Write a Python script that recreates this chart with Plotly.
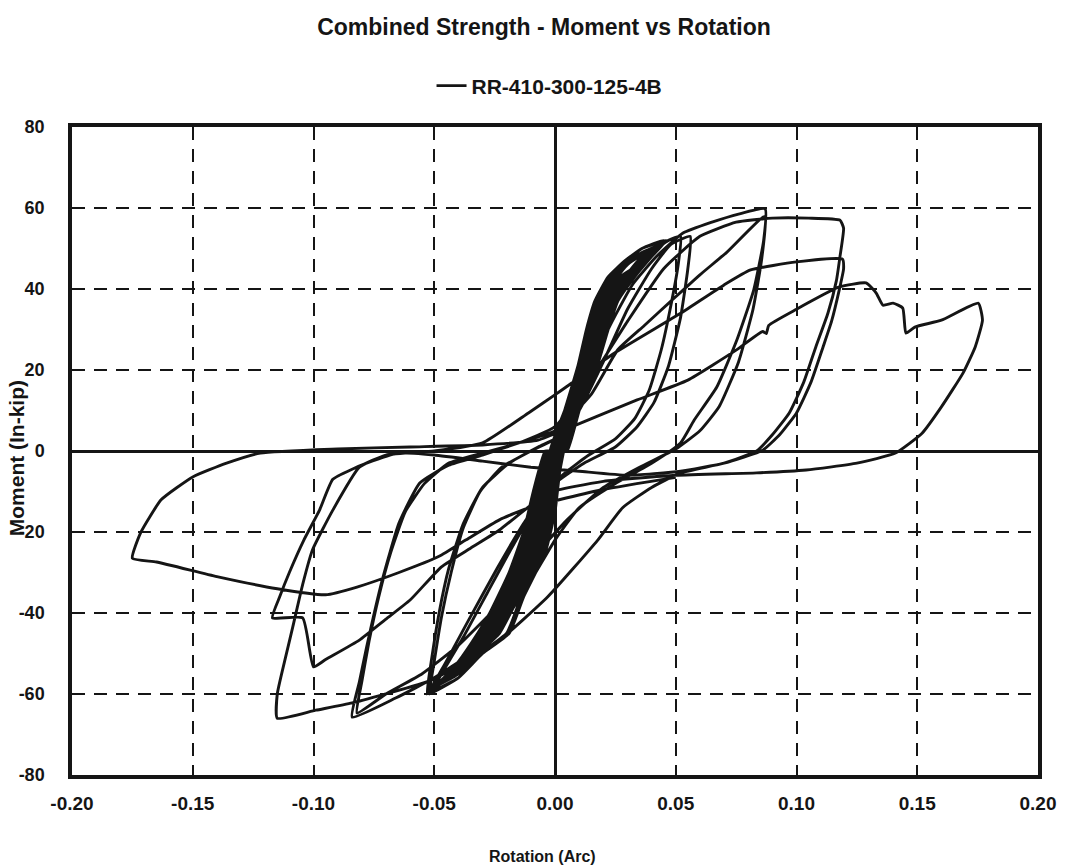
import plotly.graph_objects as go

# ---------------- data (rotation in rad, moment in in-kip) ----------------
# small cycles forming the dense central band
cA_rot = [0.003, 0.010, 0.017, 0.022, 0.026, 0.033, 0.040, 0.046, 0.036, 0.029, 0.022, 0.0165, 0.013, 0.0095, 0.004, -0.001, -0.004, -0.009, -0.013, -0.019, -0.027, -0.032, -0.040, -0.046, -0.052, -0.040, -0.030, -0.019, -0.013, -0.004, 0.000, 0.002]
cA_mom = [0, 10, 20, 30, 37, 43, 48, 52, 50, 47, 43, 37, 30, 21, 10, 0, 0, -10, -20, -30, -40, -45, -52, -56, -60, -56, -50, -45, -36, -25, -15, -5]

cB_rot = [0.001, 0.008, 0.015, 0.020, 0.024, 0.031, 0.038, 0.044, 0.036, 0.031, 0.024, 0.0185, 0.015, 0.0115, 0.006, 0.001, -0.002, -0.007, -0.011, -0.017, -0.025, -0.030, -0.038, -0.049, -0.040, -0.032, -0.023, -0.015, -0.006, -0.002, 0.000]
cB_mom = [0, 10, 20, 30, 37, 43, 48, 51, 49, 47, 43, 37, 30, 21, 10, 0, 0, -10, -20, -30, -40, -45, -52, -58, -55, -50, -45, -36, -25, -15, -5]

cC_rot = [0.000, 0.006, 0.013, 0.018, 0.022, 0.029, 0.036, 0.042, 0.035, 0.030, 0.026, 0.0205, 0.017, 0.0135, 0.008, 0.003, 0.000, -0.005, -0.009, -0.015, -0.023, -0.028, -0.036, -0.046, -0.039, -0.033, -0.025, -0.017, -0.008, -0.004, -0.001]
cC_mom = [0, 10, 20, 30, 37, 43, 48, 50, 48, 46, 43, 37, 30, 21, 10, 0, 0, -10, -20, -30, -40, -45, -52, -56, -54, -50, -45, -36, -25, -15, -5]

cD_rot = [0.002, 0.009, 0.016, 0.021, 0.025, 0.032, 0.039, 0.045, 0.036, 0.030, 0.023, 0.0175, 0.014, 0.0105, 0.005, 0.000, -0.003, -0.008, -0.012, -0.018, -0.026, -0.031, -0.039, -0.045, -0.050, -0.040, -0.031, -0.020, -0.014, -0.005, -0.001, 0.001]
cD_mom = [0, 10, 20, 30, 37, 43, 48, 52, 50, 47, 43, 37, 30, 21, 10, 0, 0, -10, -20, -30, -40, -45, -52, -56, -59, -56, -50, -45, -36, -25, -15, -5]

cE_rot = [0.000, 0.007, 0.014, 0.019, 0.023, 0.030, 0.037, 0.043, 0.036, 0.031, 0.025, 0.0195, 0.016, 0.0125, 0.007, 0.002, -0.001, -0.006, -0.010, -0.016, -0.024, -0.029, -0.037, -0.048, -0.040, -0.033, -0.024, -0.016, -0.007, -0.003, -0.001]
cE_mom = [0, 10, 20, 30, 37, 43, 48, 50.5, 48.5, 47, 43, 37, 30, 21, 10, 0, 0, -10, -20, -30, -40, -45, -52, -57, -55, -50, -45, -36, -25, -15, -5]

cF_rot = [-0.001, 0.005, 0.012, 0.017, 0.021, 0.028, 0.038, 0.032, 0.027, 0.0215, 0.018, 0.0145, 0.009, 0.004, 0.001, -0.004, -0.008, -0.014, -0.022, -0.027, -0.040, -0.034, -0.026, -0.018, -0.009, -0.005, -0.002]
cF_mom = [0, 10, 20, 30, 37, 43, 47, 45, 43, 37, 30, 21, 10, 0, 0, -10, -20, -30, -40, -45, -52, -50, -45, -36, -25, -15, -5]

cG_rot = [-0.002, 0.004, 0.011, 0.016, 0.020, 0.032, 0.027, 0.0225, 0.019, 0.0155, 0.010, 0.005, 0.002, -0.003, -0.007, -0.013, -0.021, -0.032, -0.026, -0.019, -0.010, -0.006, -0.003]
cG_mom = [0, 10, 20, 30, 37, 42, 40, 37, 30, 21, 10, 0, 0, -10, -20, -30, -40, -45, -42, -36, -25, -15, -5]

cH_rot = [0.000, 0.0065, 0.0135, 0.0185, 0.024, 0.019, 0.0165, 0.013, 0.0075, 0.0025, -0.0005, -0.0055, -0.0095, -0.0155, -0.022, -0.0165, -0.0075, -0.0035, -0.0005]
cH_mom = [0, 10, 20, 30, 34, 32, 30, 21, 10, 0, 0, -10, -20, -30, -36, -33, -25, -15, -5]

# +-0.05 cycles
m1_rot = [0.008, 0.016, 0.024, 0.032, 0.040, 0.047, 0.052, 0.051, 0.048, 0.044, 0.039, 0.033, 0.025, 0.014, 0.003, -0.008, -0.018, -0.028, -0.038, -0.046, -0.052, -0.050, -0.047, -0.043, -0.038, -0.031, -0.022, -0.010, 0.000]
m1_mom = [12, 24, 35, 43, 49, 52, 53, 46, 36, 25, 15, 8, 3, -1, -6, -14, -24, -35, -46, -54, -60, -52, -41, -30, -19, -10, -4, 0, 3]

m2_rot = [0.010, 0.020, 0.030, 0.040, 0.048, 0.056, 0.055, 0.052, 0.047, 0.041, 0.034, 0.025, 0.012, 0.000, -0.012, -0.024, -0.036, -0.046, -0.053, -0.051, -0.048, -0.044, -0.038, -0.030, -0.019, -0.007, 0.003]
m2_mom = [10, 22, 35, 45, 51, 53, 45, 33, 21, 12, 6, 1, -3, -8, -17, -29, -42, -53, -60, -51, -40, -29, -18, -9, -3, 1, 4]

# +-0.085 cycles
p1_rot = [0.012, 0.022, 0.032, 0.042, 0.053, 0.065, 0.076, 0.087, 0.0864, 0.0823, 0.0753, 0.067, 0.0576, 0.052, 0.040, 0.025, 0.010, 0.000, -0.010, -0.020, -0.035, -0.050, -0.066, -0.084, -0.081, -0.078, -0.0716, -0.0646, -0.056, -0.044, -0.030, -0.015, 0.000]
p1_mom = [15, 30, 41, 48, 53.8, 56.5, 58.5, 59.8, 52, 39.8, 27.4, 15.8, 7.6, 2, -3, -8, -14, -22, -32, -41, -50, -56, -61, -65.7, -57, -48.4, -32, -17.8, -7.9, -3.5, -1, 2, 5]

p2_rot = [0.015, 0.026, 0.037, 0.048, 0.060, 0.071, 0.087, 0.0855, 0.082, 0.076, 0.068, 0.060, 0.050, 0.035, 0.020, 0.005, -0.010, -0.025, -0.040, -0.055, -0.070, -0.082, -0.080, -0.077, -0.073, -0.068, -0.062, -0.054, -0.044, -0.030, -0.015]
p2_mom = [14, 25, 31, 37, 43.5, 49, 58, 47, 35, 22, 11, 5, 0.5, -4, -9, -17, -27, -39, -48, -55, -60, -64.7, -57, -47, -36, -25, -15, -8, -3, -0.5, 2]

# +-0.12 cycles
q1_rot = [0.000, 0.015, 0.030, 0.045, 0.060, 0.075, 0.090, 0.105, 0.118, 0.1195, 0.118, 0.1165, 0.113, 0.108, 0.103, 0.097, 0.090, 0.0835, 0.070, 0.052, 0.040, 0.028, 0.0177, -0.003, -0.023, -0.051, -0.084, -0.099, -0.115, -0.115, -0.112, -0.1086, -0.1045, -0.1004, -0.092, -0.081, -0.070, -0.050, -0.030]
q1_mom = [6, 18, 32, 45, 53, 56.5, 57.5, 57.5, 57, 55, 48, 42, 34, 25.7, 17, 9.4, 4, 0, -3, -5.4, -9, -14, -22, -36, -46.7, -56.5, -62.2, -64, -66, -60, -52, -43.5, -33, -24.4, -14.6, -4, -1, 0, 2]

q2_rot = [-0.011, 0.001, 0.0247, 0.052, 0.070, 0.081, 0.100, 0.119, 0.1195, 0.1177, 0.1145, 0.111, 0.106, 0.100, 0.093, 0.086, 0.070, 0.052, 0.030, 0.010, -0.010, -0.030, -0.050, -0.065, -0.078, -0.084, -0.092, -0.0975, -0.104, -0.110, -0.114, -0.117, -0.1045, -0.100, -0.095, -0.081, -0.070, -0.060, -0.047, -0.035, -0.023, -0.003, 0.020, 0.050]
q2_mom = [9.4, 14.3, 24.2, 34, 41, 44.7, 46.7, 47.4, 45, 39.8, 32, 25.7, 17, 9.4, 4, 0.2, -3, -5, -6, -5, -4, -2.5, -1, -0.5, -3, -4.5, -7, -14.6, -22, -30, -36, -41.2, -41.2, -53.3, -51.5, -46.7, -41.5, -36.8, -28.6, -24, -19.5, -10.4, -7.5, -6]

# largest cycle (+-0.175)
b_rot = [0.0835, 0.104, 0.125, 0.141, 0.152, 0.160, 0.169, 0.174, 0.177, 0.1753, 0.160, 0.149, 0.1453, 0.144, 0.140, 0.1358, 0.133, 0.1288, 0.1177, 0.100, 0.0885, 0.0875, 0.086, 0.075, 0.055, 0.034, 0.0066, -0.007, -0.030, -0.060, -0.090, -0.122, -0.136, -0.150, -0.163, -0.1716, -0.175, -0.165, -0.140, -0.115, -0.095, -0.082, -0.0646, -0.048, -0.037, -0.023, -0.010, 0.020, 0.050]
b_mom = [-5.4, -4.7, -3, -0.5, 4.4, 10.9, 19.3, 25.7, 32.3, 36.5, 32.3, 30.6, 29.1, 35.3, 36.5, 36, 39, 41.5, 40.5, 35, 31, 29, 29.5, 24.9, 17.5, 12.6, 5.9, 2.7, 1.5, 1, 0.5, -0.5, -3, -6.4, -12, -20.2, -26.5, -27.4, -31, -34, -35.5, -33.6, -30, -26, -22, -17, -13.8, -9.5, -6.5]

cycles_rot = [cH_rot, cG_rot, cF_rot, cC_rot, cE_rot, cB_rot, cD_rot, cA_rot,
              m1_rot, m2_rot, p1_rot, p2_rot, q1_rot, q2_rot, b_rot]
cycles_mom = [cH_mom, cG_mom, cF_mom, cC_mom, cE_mom, cB_mom, cD_mom, cA_mom,
              m1_mom, m2_mom, p1_mom, p2_mom, q1_mom, q2_mom, b_mom]

rotation = [v for c in cycles_rot for v in c]
moment = [v for c in cycles_mom for v in c]

x_ticks = [-0.20, -0.15, -0.10, -0.05, 0.00, 0.05, 0.10, 0.15, 0.20]
x_labels = ["-0.20", "-0.15", "-0.10", "-0.05", "0.00", "0.05", "0.10", "0.15", "0.20"]
y_ticks = [-80, -60, -40, -20, 0, 20, 40, 60, 80]
y_labels = ["-80", "-60", "-40", "-20", "0", "20", "40", "60", "80"]

# ---------------- figure ----------------
FONT = "Liberation Sans, Arial, sans-serif"
INK = "#151515"

fig = go.Figure()
fig.add_trace(go.Scatter(
    x=rotation, y=moment, mode="lines", name="RR-410-300-125-4B",
    line=dict(color=INK, width=2.9, shape="spline", smoothing=0.45),
))

L, R, T, B = 72, 1043, 127, 775
W, H = 1068, 867

fig.update_layout(
    width=W, height=H,
    margin=dict(l=L, r=W - R, t=T, b=H - B, pad=0),
    paper_bgcolor="white", plot_bgcolor="white",
    showlegend=True,
    title=dict(text="<b>Combined Strength - Moment vs Rotation</b>",
               x=544 / W, xanchor="center", y=1 - 27 / H, yanchor="middle",
               font=dict(family=FONT, size=23, color=INK)),
    legend=dict(orientation="h", x=(552 - L) / (R - L), xanchor="center",
                y=1 + (T - 86) / (B - T), yanchor="middle",
                font=dict(family=FONT, size=21, color=INK, weight="bold"),
                bgcolor="rgba(0,0,0,0)", itemwidth=30),
    font=dict(family=FONT, color=INK),
)

fig.update_xaxes(
    range=[-0.2, 0.2], tickvals=x_ticks, ticktext=x_labels,
    showgrid=True, gridcolor=INK, gridwidth=2, griddash="13px,9px",
    zeroline=True, zerolinecolor=INK, zerolinewidth=2.5,
    showline=True, linecolor=INK, linewidth=3.5, mirror=True,
    ticks="", ticklabelstandoff=8,
    tickfont=dict(family=FONT, size=19, color=INK, weight="bold"),
)
fig.update_yaxes(
    range=[-80, 80], tickvals=y_ticks, ticktext=y_labels,
    showgrid=True, gridcolor=INK, gridwidth=2, griddash="13px,9px",
    zeroline=True, zerolinecolor=INK, zerolinewidth=2.5,
    showline=True, linecolor=INK, linewidth=3.5, mirror=True,
    ticks="", ticklabelstandoff=20,
    tickfont=dict(family=FONT, size=18, color=INK, weight="bold"),
)

fig.add_annotation(text="<b>Rotation (Arc)</b>", xref="paper", yref="paper",
                   x=(545 - L) / (R - L), y=-(856 - B) / (B - T),
                   xanchor="center", yanchor="middle", showarrow=False,
                   font=dict(family=FONT, size=16, color=INK))
fig.add_annotation(text="<b>Moment (In-kip)</b>", xref="paper", yref="paper",
                   x=-(L - 17) / (R - L), y=(B - 458) / (B - T),
                   xanchor="center", yanchor="middle", textangle=-90, showarrow=False,
                   font=dict(family=FONT, size=21, color=INK))

fig.write_html("out.html", config={"displayModeBar": False},
               post_script="document.body.style.margin='0';document.body.style.overflow='hidden';")
